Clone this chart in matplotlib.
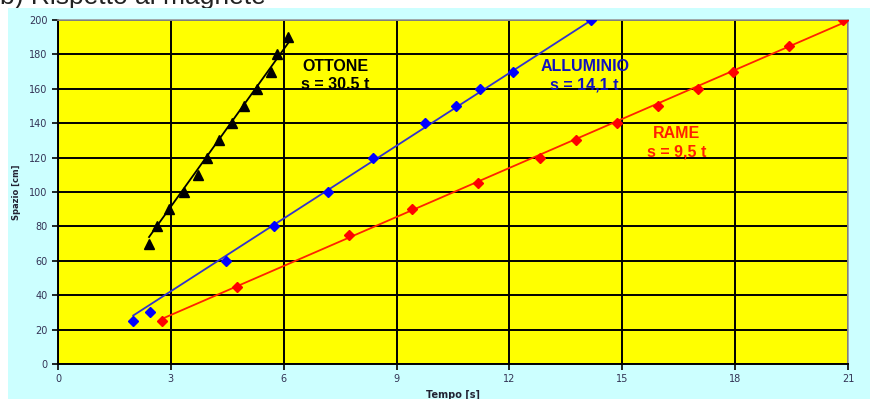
import matplotlib.pyplot as plt
import numpy as np
from matplotlib.patches import Rectangle

# dati
t_ottone = [2.42, 2.62, 2.94, 3.36, 3.73, 3.96, 4.28, 4.62, 4.95, 5.30, 5.66, 5.82, 6.12]
s_ottone = [70, 80, 90, 100, 110, 120, 130, 140, 150, 160, 170, 180, 190]

t_allum = [2.0, 2.45, 4.47, 5.74, 7.18, 8.38, 9.76, 10.59, 11.22, 12.1, 14.18]
s_allum = [25, 30, 60, 80, 100, 120, 140, 150, 160, 170, 200]

t_rame = [2.76, 4.76, 7.74, 9.41, 11.17, 12.8, 13.78, 14.87, 15.96, 17.02, 17.93, 19.44, 20.88]
s_rame = [25, 45, 75, 90, 105, 120, 130, 140, 150, 160, 170, 185, 200]

k_ottone, k_allum, k_rame = 30.5, 14.1, 9.5

x_ticks = [0, 3, 6, 9, 12, 15, 18, 21]
y_ticks = list(range(0, 201, 20))

fig = plt.figure(figsize=(8.79, 3.99), dpi=100)
fig.patch.set_facecolor('white')
# sfondo azzurro del grafico excel
fig.patches.append(Rectangle((8/879, 0), 862/879, 391/399, transform=fig.transFigure,
                             facecolor='#CCFFFF', edgecolor='none', zorder=-5))
fig.text(0.0, 1 - 4/399, 'b) Rispetto al magnete', fontsize=19, family='Liberation Sans',
         color='#222222', va='baseline', ha='left', zorder=-6)

ax = fig.add_axes([58/879, 35/399, 790/879, 344/399])
ax.set_facecolor('#FFFF00')

# trendline
def trend(t, k, color):
    tt = np.array([min(t), max(t)])
    ax.plot(tt, k*tt, color=color, lw=1.3, zorder=3)

trend(t_ottone, k_ottone, 'black')
trend(t_allum, k_allum, '#3333CC')
trend(t_rame, k_rame, '#FF2200')

ax.plot(t_ottone, s_ottone, ls='none', marker='^', ms=7, color='black', zorder=4)
ax.plot(t_allum, s_allum, ls='none', marker='D', ms=5, color='#0000FF', zorder=4)
ax.plot(t_rame, s_rame, ls='none', marker='D', ms=5, color='#FF0000', zorder=4)

lab = dict(ha='center', va='center', fontsize=11.5, fontweight='bold', family='Liberation Sans')
ax.text(7.37, 173, 'OTTONE', color='black', **lab)
ax.text(7.37, 162.5, 's = 30.5 t', color='black', **lab)
ax.text(14.0, 173, 'ALLUMINIO', color='#1010C0', **lab)
ax.text(14.0, 162.5, 's = 14,1 t', color='#1010C0', **lab)
ax.text(16.45, 134, 'RAME', color='#FF2000', **lab)
ax.text(16.45, 123, 's = 9,5 t', color='#FF2000', **lab)

ax.set_xlim(0, 21)
ax.set_ylim(0, 200)
ax.set_xticks(x_ticks)
ax.set_yticks(y_ticks)
ax.grid(True, color='black', lw=1.4)
ax.set_axisbelow(True)
ax.tick_params(direction='out', length=4, width=1.2, labelsize=7, colors='black',
               labelcolor='#333355')
for s in ['left', 'bottom']:
    ax.spines[s].set_color('black')
    ax.spines[s].set_linewidth(1.4)
for s in ['top', 'right']:
    ax.spines[s].set_color('#999999')
    ax.spines[s].set_linewidth(1.2)

ax.set_xlabel('Tempo [s]', fontsize=7, fontweight='bold', labelpad=4, color='#222233')
ax.set_ylabel('Spazio [cm]', fontsize=6, fontweight='bold', labelpad=6, color='#222233')

plt.savefig('out.png', dpi=100, facecolor=fig.get_facecolor())
